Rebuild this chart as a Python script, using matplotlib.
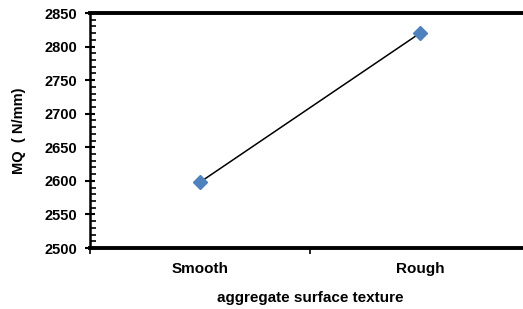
import matplotlib
matplotlib.use("Agg")
import matplotlib.pyplot as plt
import matplotlib.ticker as ticker

categories = ["Smooth", "Rough"]
mq_values = [2598, 2820]

plt.rcParams['font.family'] = ['Liberation Sans', 'DejaVu Sans']
plt.rcParams['font.weight'] = 'bold'

fig = plt.figure(figsize=(5.23, 3.09), dpi=100)
W, H = 523, 309
# plot area extends past the right edge, like the cropped original
ax = fig.add_axes([90 / W, 1 - 248 / H, 440 / W, 235 / H])

x = [0.5, 1.5]
ax.plot(x, mq_values, color="black", linewidth=1.1, zorder=2)
ax.plot(x, mq_values, linestyle="none", marker="D", markersize=7,
        color="#4F81BD", zorder=3)

ax.set_xlim(0, 2)
ax.set_ylim(2500, 2850)

ax.yaxis.set_major_locator(ticker.MultipleLocator(50))
ax.yaxis.set_minor_locator(ticker.MultipleLocator(10))
ax.tick_params(axis="y", which="major", direction="inout", length=7, width=1.5,
               labelsize=10.5, pad=6)
ax.tick_params(axis="y", which="minor", direction="in", length=4, width=1.2)

ax.set_xticks([0, 1, 2])
ax.set_xticks(x, minor=True)
ax.set_xticklabels(["", "", ""])
ax.set_xticklabels(categories, minor=True)
ax.tick_params(axis="x", which="major", direction="out", length=4, width=1.2)
ax.tick_params(axis="x", which="minor", length=0, labelsize=11, pad=10)

for lbl in ax.get_yticklabels() + ax.get_xticklabels(minor=True):
    lbl.set_fontweight("bold")

ax.spines["left"].set_linewidth(1.8)
ax.spines["bottom"].set_linewidth(2.8)
ax.spines["top"].set_linewidth(2.8)
ax.spines["right"].set_visible(False)

ax.set_xlabel("aggregate surface texture", fontsize=11, fontweight="bold")
ax.set_ylabel("MQ  ( N/mm)", fontsize=10.5, fontweight="bold")
ax.xaxis.set_label_coords(0.5, -(291 - 248) / 235)
ax.yaxis.set_label_coords(-(90 - 26) / 440, 0.5)

fig.savefig("out.png", dpi=100)
